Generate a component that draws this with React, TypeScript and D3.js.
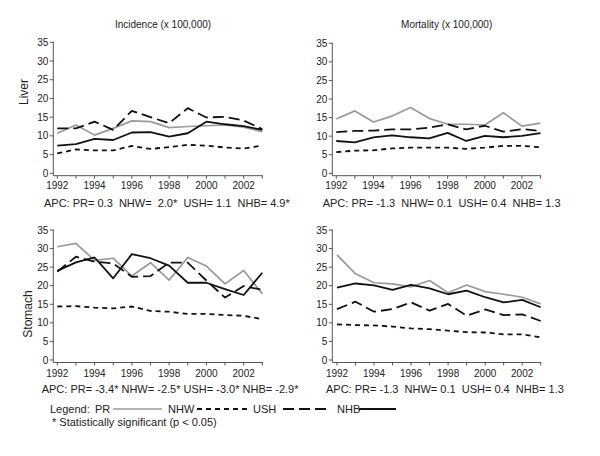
import React from "react";
import * as d3 from "d3";

const years = [1992, 1993, 1994, 1995, 1996, 1997, 1998, 1999, 2000, 2001, 2002, 2003];
const yearLabels = [1992, 1994, 1996, 1998, 2000, 2002];
const yTicks = [0, 5, 10, 15, 20, 25, 30, 35];
const seriesNames = ["PR", "NHW", "USH", "NHB"];

// Liver incidence
const liverIncPR = [10.7, 12.9, 10.2, 12.0, 14.0, 13.8, 12.2, 12.5, 12.7, 12.9, 12.3, 11.1];
const liverIncNHW = [5.3, 6.4, 6.1, 6.1, 7.3, 6.5, 7.0, 7.6, 7.4, 6.9, 6.6, 7.4];
const liverIncUSH = [12.0, 12.0, 13.8, 11.6, 16.7, 15.0, 13.4, 17.4, 14.9, 15.1, 14.1, 11.8];
const liverIncNHB = [7.4, 7.8, 9.2, 8.9, 10.9, 11.0, 9.8, 10.7, 13.8, 13.1, 12.6, 11.6];

// Liver mortality
const liverMortPR = [14.6, 16.8, 13.8, 15.4, 17.7, 14.8, 13.2, 13.2, 13.0, 16.3, 12.7, 13.5];
const liverMortNHW = [5.7, 6.1, 6.2, 6.7, 6.9, 6.9, 6.9, 6.6, 6.9, 7.4, 7.4, 7.0];
const liverMortUSH = [11.1, 11.4, 11.5, 11.8, 11.8, 12.3, 13.2, 11.8, 12.8, 11.2, 11.9, 11.4];
const liverMortNHB = [8.7, 8.3, 9.7, 10.2, 9.7, 9.4, 10.9, 8.7, 10.1, 9.7, 10.1, 10.8];

// Stomach incidence
const stomIncPR = [30.5, 31.4, 26.8, 27.4, 22.6, 26.2, 21.5, 27.6, 25.3, 20.5, 24.1, 17.8];
const stomIncNHW = [14.4, 14.5, 14.1, 13.9, 14.4, 13.2, 13.0, 12.4, 12.4, 12.1, 11.9, 11.0];
const stomIncUSH = [23.8, 27.8, 26.5, 26.0, 22.4, 22.6, 26.2, 26.2, 21.4, 16.8, 19.9, 18.9];
const stomIncNHB = [24.0, 26.3, 27.6, 22.0, 28.5, 27.4, 25.4, 20.8, 20.8, 19.1, 17.5, 23.5];

// Stomach mortality
const stomMortPR = [28.3, 23.2, 20.8, 20.5, 19.7, 21.4, 18.1, 20.2, 18.4, 17.7, 16.9, 15.1];
const stomMortNHW = [9.6, 9.4, 9.3, 9.0, 8.5, 8.3, 7.9, 7.5, 7.4, 6.9, 6.9, 6.1];
const stomMortUSH = [13.7, 15.7, 13.0, 13.7, 15.5, 13.3, 15.1, 11.9, 13.6, 12.1, 12.3, 10.5];
const stomMortNHB = [19.5, 20.6, 20.1, 18.9, 20.2, 19.3, 17.7, 18.7, 16.9, 15.5, 16.2, 14.2];

const apcTexts = [
  "APC: PR= 0.3  NHW=  2.0*  USH= 1.1  NHB= 4.9*",
  "APC: PR= -1.3  NHW= 0.1  USH= 0.4  NHB= 1.3",
  "APC: PR= -3.4* NHW= -2.5* USH= -3.0* NHB= -2.9*",
  "APC: PR= -1.3  NHW= 0.1  USH= 0.4  NHB= 1.3",
];
const titles = ["Incidence (x 100,000)", "Mortality (x 100,000)"];
const rowLabels = ["Liver", "Stomach"];

const panelData = [
  [liverIncPR, liverIncNHW, liverIncUSH, liverIncNHB],
  [liverMortPR, liverMortNHW, liverMortUSH, liverMortNHB],
  [stomIncPR, stomIncNHW, stomIncUSH, stomIncNHB],
  [stomMortPR, stomMortNHW, stomMortUSH, stomMortNHB],
];

const styles: Record<string, { stroke: string; width: number; dash?: string }> = {
  PR: { stroke: "#9a9a9a", width: 1.7 },
  NHW: { stroke: "#111", width: 1.8, dash: "5,4" },
  USH: { stroke: "#111", width: 1.8, dash: "11,5" },
  NHB: { stroke: "#111", width: 1.8 },
};

const layout = [
  { ax: 53.3, x0: 57.3, x1: 262.3, y0: 173.3, y1: 42.3, axY: 175.7, lblY: 189, apcX: 44, apcY: 206.5 },
  { ax: 332.3, x0: 336.3, x1: 540.5, y0: 173.3, y1: 43.3, axY: 175.7, lblY: 189, apcX: 322.7, apcY: 206.5 },
  { ax: 53.3, x0: 57.3, x1: 262.3, y0: 360, y1: 230, axY: 362.5, lblY: 376.7, apcX: 41.7, apcY: 393 },
  { ax: 332.3, x0: 337, x1: 540.7, y0: 360, y1: 230, axY: 362.5, lblY: 376.7, apcX: 326, apcY: 393 },
];

const FONT = "Arial, 'Liberation Sans', sans-serif";
const TXT = "#222";
const AXC = "#555";

function Panel({ idx }: { idx: number }) {
  const L = layout[idx];
  const x = d3.scaleLinear().domain([1992, 2003]).range([L.x0, L.x1]);
  const y = d3.scaleLinear().domain([0, 35]).range([L.y0, L.y1]);
  const line = d3
    .line<number>()
    .x((_, i) => x(years[i]))
    .y((d) => y(d));
  return (
    <g>
      <line x1={L.ax} x2={L.ax} y1={y(35) - 0.5} y2={L.axY} stroke={AXC} strokeWidth={1} />
      <line x1={L.ax} x2={x(2003) + 0.5} y1={L.axY} y2={L.axY} stroke={AXC} strokeWidth={1} />
      {yTicks.map((t) => (
        <g key={t}>
          <line x1={L.ax - 3.5} x2={L.ax} y1={y(t)} y2={y(t)} stroke={AXC} strokeWidth={1} />
          <text x={L.ax - 5} y={y(t)} dy="0.35em" textAnchor="end" fontSize={10} fill={TXT} fontFamily={FONT}>
            {t}
          </text>
        </g>
      ))}
      {years.map((yr) => (
        <line key={yr} x1={x(yr)} x2={x(yr)} y1={L.axY} y2={L.axY + 3} stroke={AXC} strokeWidth={1} />
      ))}
      {yearLabels.map((yr) => (
        <text key={yr} x={x(yr)} y={L.lblY} textAnchor="middle" fontSize={10} fill={TXT} fontFamily={FONT}>
          {yr}
        </text>
      ))}
      {seriesNames.map((s, si) => (
        <path
          key={s}
          d={line(panelData[idx][si]) || ""}
          fill="none"
          stroke={styles[s].stroke}
          strokeWidth={styles[s].width}
          strokeDasharray={styles[s].dash}
          strokeLinejoin="round"
        />
      ))}
      <text x={L.apcX} y={L.apcY} fontSize={11} fill={TXT} fontFamily={FONT} xmlSpace="preserve" style={{ whiteSpace: "pre" }}>
        {apcTexts[idx]}
      </text>
    </g>
  );
}

export default function App() {
  const legendItems = [
    { name: "PR", tx: 95, lx0: 113, lx1: 162 },
    { name: "NHW", tx: 168, lx0: 197, lx1: 247 },
    { name: "USH", tx: 253, lx0: 283, lx1: 326 },
    { name: "NHB", tx: 337, lx0: 359, lx1: 396 },
  ];
  return (
    <svg width={600} height={456} style={{ position: "absolute", left: 0, top: 0, background: "#fff" }}>
      <rect width={600} height={456} fill="#fff" />
      <text x={163} y={27.5} textAnchor="middle" fontSize={10} fill={TXT} fontFamily={FONT}>
        {titles[0]}
      </text>
      <text x={446.7} y={27.5} textAnchor="middle" fontSize={10} fill={TXT} fontFamily={FONT}>
        {titles[1]}
      </text>
      <text transform="translate(28,92) rotate(-90)" textAnchor="middle" fontSize={12} fill={TXT} fontFamily={FONT}>
        {rowLabels[0]}
      </text>
      <text transform="translate(32,314) rotate(-90)" textAnchor="middle" fontSize={12} fill={TXT} fontFamily={FONT}>
        {rowLabels[1]}
      </text>
      {[0, 1, 2, 3].map((i) => (
        <Panel key={i} idx={i} />
      ))}
      <text x={50} y={413} fontSize={11} fill={TXT} fontFamily={FONT}>
        Legend:
      </text>
      {legendItems.map((it) => (
        <g key={it.name}>
          <text x={it.tx} y={413} fontSize={11} fill={TXT} fontFamily={FONT}>
            {it.name}
          </text>
          <line
            x1={it.lx0}
            x2={it.lx1}
            y1={409}
            y2={409}
            stroke={styles[it.name].stroke}
            strokeWidth={styles[it.name].width}
            strokeDasharray={styles[it.name].dash}
          />
        </g>
      ))}
      <text x={52} y={426} fontSize={11} fill={TXT} fontFamily={FONT}>
        * Statistically significant (p &lt; 0.05)
      </text>
    </svg>
  );
}
